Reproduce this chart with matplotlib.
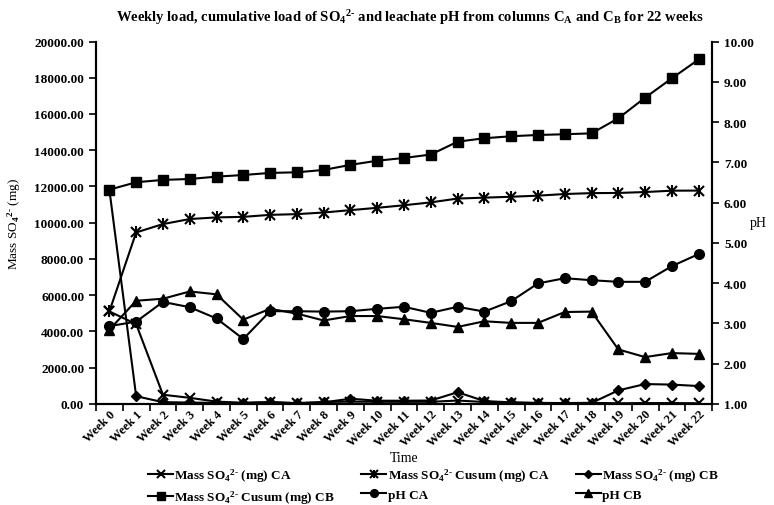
import numpy as np
import matplotlib
matplotlib.use('Agg')
import matplotlib.pyplot as plt

plt.rcParams['font.family'] = 'Liberation Serif'
plt.rcParams['font.weight'] = 'bold'
plt.rcParams['mathtext.fontset'] = 'custom'
plt.rcParams['mathtext.rm'] = 'Liberation Serif:bold'
plt.rcParams['mathtext.it'] = 'Liberation Serif:bold'
plt.rcParams['mathtext.bf'] = 'Liberation Serif:bold'

# Data
weeks = ['Week %d' % i for i in range(23)]
mass_ca = [5100, 4400, 500, 330, 120, 60, 90, 40, 100, 120, 110, 110, 110,
           180, 100, 60, 40, 40, 50, 30, 40, 40, 30]
cusum_ca = [5100, 9460, 9920, 10200, 10290, 10320, 10430, 10470, 10560, 10690,
            10820, 10960, 11120, 11330, 11380, 11430, 11490, 11580, 11630,
            11640, 11690, 11765, 11770]
mass_cb = [11820, 420, 90, 70, 50, 40, 90, 30, 80, 280, 170, 170, 180, 640,
           150, 80, 50, 40, 50, 740, 1090, 1060, 980]
cusum_cb = [11820, 12230, 12360, 12410, 12540, 12630, 12745, 12780, 12910,
            13190, 13420, 13570, 13760, 14470, 14660, 14770, 14840, 14880,
            14930, 15760, 16900, 17970, 19010]
ph_ca = [2.93, 3.04, 3.53, 3.40, 3.12, 2.61, 3.30, 3.30, 3.29, 3.30, 3.36,
         3.41, 3.26, 3.41, 3.29, 3.55, 3.99, 4.12, 4.07, 4.03, 4.03, 4.42, 4.72]
ph_cb = [2.84, 3.56, 3.61, 3.79, 3.72, 3.09, 3.36, 3.24, 3.07, 3.18, 3.18,
         3.10, 3.01, 2.91, 3.05, 3.01, 3.01, 3.28, 3.29, 2.35, 2.16, 2.26, 2.24]

x = np.arange(len(weeks))
so4 = r'SO$_4{}^{2\text{-}}$'

fig = plt.figure(figsize=(7.74, 5.06), dpi=100)
ax = fig.add_axes([0.124, 0.2, 0.796, 0.716])
ax2 = ax.twinx()

kw = dict(color='black', lw=1.5)
l1, = ax.plot(x, mass_ca, marker='x', ms=7, mew=1.5, **kw)
l2, = ax.plot(x, cusum_ca, marker='x', ms=7, mew=1.5, **kw)
l2b, = ax.plot(x, cusum_ca, marker='|', ms=8, mew=1.5, ls='none', color='black')
l3, = ax.plot(x, mass_cb, marker='D', ms=5.5, **kw)
l4, = ax.plot(x, cusum_cb, marker='s', ms=7, **kw)
l5, = ax2.plot(x, ph_ca, marker='o', ms=7, **kw)
l6, = ax2.plot(x, ph_cb, marker='^', ms=7.5, **kw)

ax.set_xlim(-0.5, len(weeks) - 0.5)
ax.set_ylim(0, 20000)
ax.set_yticks(np.arange(0, 20001, 2000))
ax.set_yticklabels(['%.2f' % v for v in np.arange(0, 20001, 2000)], fontsize=9.5)
ax2.set_ylim(1, 10)
ax2.set_yticks(np.arange(1, 10.01, 1))
ax2.set_yticklabels(['%.2f' % v for v in np.arange(1, 10.01, 1)], fontsize=9.5)

ax.set_xticks(x)
ax.set_xticklabels(weeks, rotation=45, ha='right', rotation_mode='anchor', fontsize=9)
ax.set_xticks(np.arange(-0.5, len(weeks), 1), minor=True)
ax.tick_params(axis='x', which='major', length=0, pad=3)
ax.tick_params(axis='x', which='minor', length=5, width=1.2, direction='out')
ax.tick_params(axis='y', length=5, width=1.2, direction='out')
ax2.tick_params(axis='y', length=5, width=1.2, direction='out')

for a in (ax, ax2):
    a.spines['top'].set_visible(False)
    for s in ('left', 'right', 'bottom'):
        a.spines[s].set_linewidth(1.5)

ax.set_xlabel('Time', fontsize=10, va='center')
ax.xaxis.set_label_coords(0.5, -0.148)
ax.set_ylabel('Mass ' + so4 + ' (mg)', fontsize=9.5)
ax.yaxis.set_label_coords(-0.118, 0.5)
ax2.set_ylabel('pH', fontsize=10, rotation=0, va='center', ha='center')
ax2.yaxis.set_label_coords(1.075, 0.5)

fig.text(0.53, 0.965, r'Weekly load, cumulative load of SO$_4{}^{2\text{-}}$ and leachate pH from columns C$_A$ and C$_B$ for 22 weeks',
         ha='center', va='center', fontsize=10.5)

handles = [l1, l4, (l2, l2b), l5, l3, l6]
labels = ['Mass ' + so4 + ' (mg) CA', 'Mass ' + so4 + ' Cusum (mg) CB',
          'Mass ' + so4 + ' Cusum (mg) CA', 'pH CA',
          'Mass ' + so4 + ' (mg) CB', 'pH CB']
fig.legend(handles, labels, loc='center left', bbox_to_anchor=(0.181, 0.037), ncol=3,
           frameon=False, fontsize=9.5, handlelength=1.9, handletextpad=0.1,
           columnspacing=2.0, labelspacing=0.35, markerscale=0.8,
           borderpad=0.1)

fig.savefig('out.png', dpi=100)
